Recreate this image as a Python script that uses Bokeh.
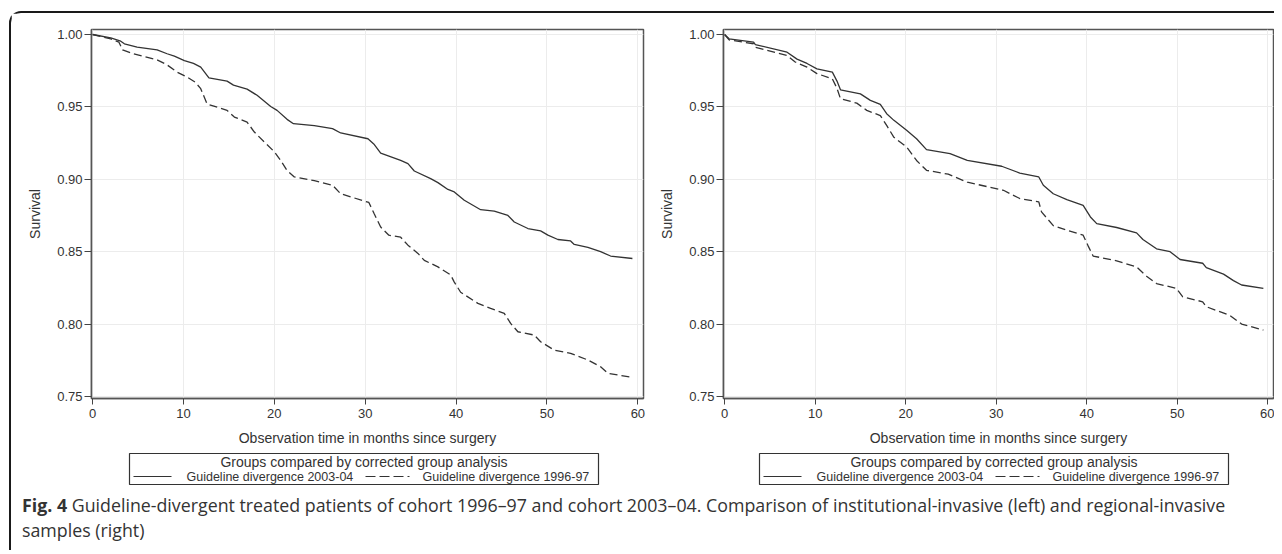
from bokeh.plotting import figure
from bokeh.models import Range1d, FixedTicker, PrintfTickFormatter, Div
from bokeh.layouts import row, column
from bokeh.embed import file_html
from bokeh.resources import INLINE
from bokeh.core.properties import value

# ---------------- data ----------------
x_ticks = [0, 10, 20, 30, 40, 50, 60]
y_ticks = [0.75, 0.80, 0.85, 0.90, 0.95, 1.00]

series_names = ["Guideline divergence 2003-04", "Guideline divergence 1996-97"]
legend_title = "Groups compared by corrected group analysis"
x_label = "Observation time in months since surgery"
y_label = "Survival"

# left panel: institutional-invasive
t_left_2003 = [0, 2.0, 3.1, 3.5, 4.9, 7.1, 8.2, 9.0, 10.1, 11.1, 11.9, 12.8, 14.8, 15.5, 17.0, 18.1,
               19.6, 20.3, 21.4, 22.1, 24.4, 26.4, 27.3, 30.3, 31.0, 31.7, 33.9, 34.7, 35.4, 37.2,
               38.0, 39.1, 39.8, 40.9, 42.7, 44.2, 45.7, 46.4, 47.9, 49.3, 50.1, 51.2, 52.6, 53.0,
               54.5, 55.9, 57.0, 59.4]
s_left_2003 = [1.0, 0.9977, 0.9954, 0.9936, 0.9913, 0.9894, 0.9867, 0.985, 0.982, 0.980, 0.9775,
               0.970, 0.9678, 0.965, 0.9623, 0.958, 0.9503, 0.9476, 0.9414, 0.9384, 0.937, 0.935,
               0.932, 0.928, 0.924, 0.918, 0.913, 0.9108, 0.9057, 0.9005, 0.8977, 0.893, 0.8913,
               0.8855, 0.879, 0.878, 0.875, 0.8705, 0.866, 0.8644, 0.8614, 0.8584, 0.8574, 0.855,
               0.853, 0.850, 0.847, 0.8453]
t_left_1996 = [0, 2.0, 2.9, 3.3, 4.5, 7.1, 8.2, 9.3, 10.4, 11.3, 11.9, 12.6, 14.8, 15.6, 17.0, 17.8,
               18.9, 20.0, 20.7, 21.4, 22.2, 24.4, 26.4, 27.3, 30.4, 31.0, 31.7, 32.6, 33.9, 34.7,
               35.8, 36.5, 38.0, 39.4, 39.8, 40.5, 42.4, 43.8, 45.3, 46.0, 46.8, 48.6, 49.3, 50.8,
               52.6, 54.5, 55.9, 56.7, 59.4]
s_left_1996 = [1.0, 0.997, 0.9947, 0.9894, 0.9867, 0.9825, 0.979, 0.974, 0.9706, 0.967, 0.9626,
               0.952, 0.9476, 0.943, 0.9395, 0.9326, 0.9257, 0.919, 0.913, 0.906, 0.9016, 0.899,
               0.8959, 0.890, 0.884, 0.876, 0.867, 0.8614, 0.860, 0.8545, 0.8488, 0.844, 0.8395,
               0.834, 0.829, 0.822, 0.8143, 0.8108, 0.8074, 0.8005, 0.7947, 0.7924, 0.7878, 0.782,
               0.7798, 0.7752, 0.7705, 0.766, 0.7632]

# right panel: regional-invasive
t_right_2003 = [0, 0.5, 3.2, 3.4, 6.9, 8.0, 9.1, 10.2, 11.9, 12.4, 12.8, 15.0, 16.1, 17.2, 17.9,
                18.7, 20.1, 21.2, 22.3, 24.9, 26.8, 30.6, 32.6, 34.7, 35.2, 36.3, 37.8, 39.6, 40.4,
                41.1, 43.3, 45.5, 46.2, 47.7, 49.2, 50.3, 52.8, 53.2, 55.1, 56.2, 57.1, 59.5]
s_right_2003 = [1.0, 0.997, 0.9947, 0.993, 0.9878, 0.983, 0.980, 0.9763, 0.974, 0.968, 0.9618,
                0.959, 0.9545, 0.9517, 0.9453, 0.9407, 0.9338, 0.928, 0.9205, 0.9177, 0.913, 0.909,
                0.9043, 0.9016, 0.8959, 0.890, 0.886, 0.882, 0.874, 0.8694, 0.8667, 0.863, 0.8584,
                0.852, 0.850, 0.8446, 0.842, 0.839, 0.8345, 0.830, 0.827, 0.8246]
t_right_1996 = [0, 0.5, 3.2, 3.4, 6.9, 7.8, 9.1, 10.2, 11.9, 12.4, 12.8, 14.6, 15.7, 17.2, 17.9,
                18.7, 20.1, 21.2, 22.3, 24.7, 26.8, 30.8, 32.6, 34.7, 35.0, 36.3, 37.8, 39.6, 40.2,
                40.7, 43.3, 45.5, 46.6, 47.7, 49.9, 50.6, 52.8, 53.2, 55.8, 57.1, 59.5]
s_right_1996 = [1.0, 0.9963, 0.9936, 0.9912, 0.9855, 0.981, 0.9775, 0.973, 0.9694, 0.963, 0.9556,
                0.9526, 0.9476, 0.944, 0.9372, 0.929, 0.9223, 0.913, 0.9062, 0.9035, 0.898, 0.8924,
                0.8867, 0.8844, 0.8775, 0.868, 0.8648, 0.8614, 0.8533, 0.847, 0.8437, 0.8395, 0.833,
                0.828, 0.8246, 0.8188, 0.8154, 0.812, 0.806, 0.800, 0.7959]

caption_bold = "Fig. 4"
caption_line1 = ("Guideline-divergent treated patients of cohort 1996\u201397 and cohort 2003\u201304. "
                 "Comparison of institutional-invasive (left) and regional-invasive")
caption_line2 = "samples (right)"

# ---------------- style ----------------
FONT = "Liberation Sans"
TXT = "#333333"
LINE = "#333333"
DASH = "8 4"


def make_panel(width, b_left, b_right, t_a, s_a, t_b, s_b, lab_standoff):
    p = figure(width=width, height=435,
               x_range=Range1d(-0.12, 60.62), y_range=Range1d(0.7486, 1.00345),
               output_backend="svg", toolbar_location=None,
               min_border_left=b_left, min_border_right=b_right,
               min_border_top=16, min_border_bottom=49)
    p.background_fill_color = "white"
    p.border_fill_color = "white"
    p.outline_line_color = "#555555"
    p.outline_line_width = 1.5

    p.xaxis.ticker = FixedTicker(ticks=x_ticks)
    p.yaxis.ticker = FixedTicker(ticks=y_ticks)
    p.yaxis.formatter = PrintfTickFormatter(format="%.2f")
    p.xaxis.formatter = PrintfTickFormatter(format="%d")
    for ax in (p.xaxis[0], p.yaxis[0]):
        ax.axis_line_color = "#555555"
        ax.axis_line_width = 1.5
        ax.major_tick_line_color = "#444444"
        ax.major_tick_line_width = 1
        ax.major_tick_in = 0
        ax.minor_tick_line_color = None
        ax.major_label_text_font = FONT
        ax.major_label_text_font_size = "13px"
        ax.major_label_text_color = TXT
        ax.axis_label_text_font = FONT
        ax.axis_label_text_font_size = "14px"
        ax.axis_label_text_font_style = "normal"
        ax.axis_label_text_color = TXT
    p.xaxis.major_tick_out = 6
    p.yaxis.major_tick_out = 7
    p.xaxis.major_label_standoff = 4
    p.yaxis.major_label_standoff = 2
    p.xaxis.axis_label = x_label
    p.yaxis.axis_label = y_label
    p.xaxis.axis_label_standoff = 9
    p.yaxis.axis_label_standoff = lab_standoff

    p.grid.grid_line_color = "#ececec"
    p.grid.grid_line_width = 1

    p.line(t_a, s_a, line_color=LINE, line_width=1.3)
    p.line(t_b, s_b, line_color=LINE, line_width=1.3, line_dash=DASH)
    return p


def make_legend(width, box_left):
    h = 42
    box_w = 469
    q = figure(width=width, height=h, x_range=Range1d(0, width), y_range=Range1d(h, 0),
               x_axis_type=None, y_axis_type=None, output_backend="svg",
               toolbar_location=None, min_border=0, frame_align=False)
    q.outline_line_color = None
    q.grid.visible = False
    q.quad(left=[box_left], right=[box_left + box_w], top=[5], bottom=[36],
           fill_color=None, line_color="#333333", line_width=1.2)
    q.text(x=[box_left + box_w / 2], y=[13.5], text=[legend_title], text_align="center",
           text_baseline="middle", text_font=value(FONT), text_font_size="14px", text_color=TXT)
    y_row = 28
    q.line([box_left + 4, box_left + 42], [y_row, y_row], line_color=LINE, line_width=1.2)
    q.text(x=[box_left + 57], y=[y_row], text=[series_names[0]], text_align="left",
           text_baseline="middle", text_font=value(FONT), text_font_size="12.5px", text_color=TXT)
    q.line([box_left + 236, box_left + 286], [y_row, y_row], line_color=LINE, line_width=1.2,
           line_dash="10 4 10 4 10 4 2 6")
    q.text(x=[box_left + 293], y=[y_row], text=[series_names[1]], text_align="left",
           text_baseline="middle", text_font=value(FONT), text_font_size="12.5px", text_color=TXT)
    return q


pL = make_panel(644, 80, 12, t_left_2003, s_left_2003, t_left_1996, s_left_1996, 11)
pR = make_panel(619, 68, 1, t_right_2003, s_right_2003, t_right_1996, s_right_1996, 11)
lL = make_legend(644, 118)
lR = make_legend(619, 104)

cap = Div(text="<b>%s</b> %s<br>%s" % (caption_bold, caption_line1, caption_line2),
          width=1250, height=60, margin=0,
          styles={"font-family": "'Open Sans'", "font-size": "17.8px", "color": "#333333",
                  "line-height": "25px", "padding-left": "11px", "padding-top": "3px",
                  "white-space": "nowrap"})

top = row(column(pL, lL), column(pR, lR))
layout = column(top, cap, margin=(11, 0, 0, 9),
                styles={"border-left": "2px solid #1a1a1a", "border-top": "2px solid #1a1a1a",
                        "border-top-left-radius": "12px"})

open("out.html", "w").write(file_html(layout, INLINE))
